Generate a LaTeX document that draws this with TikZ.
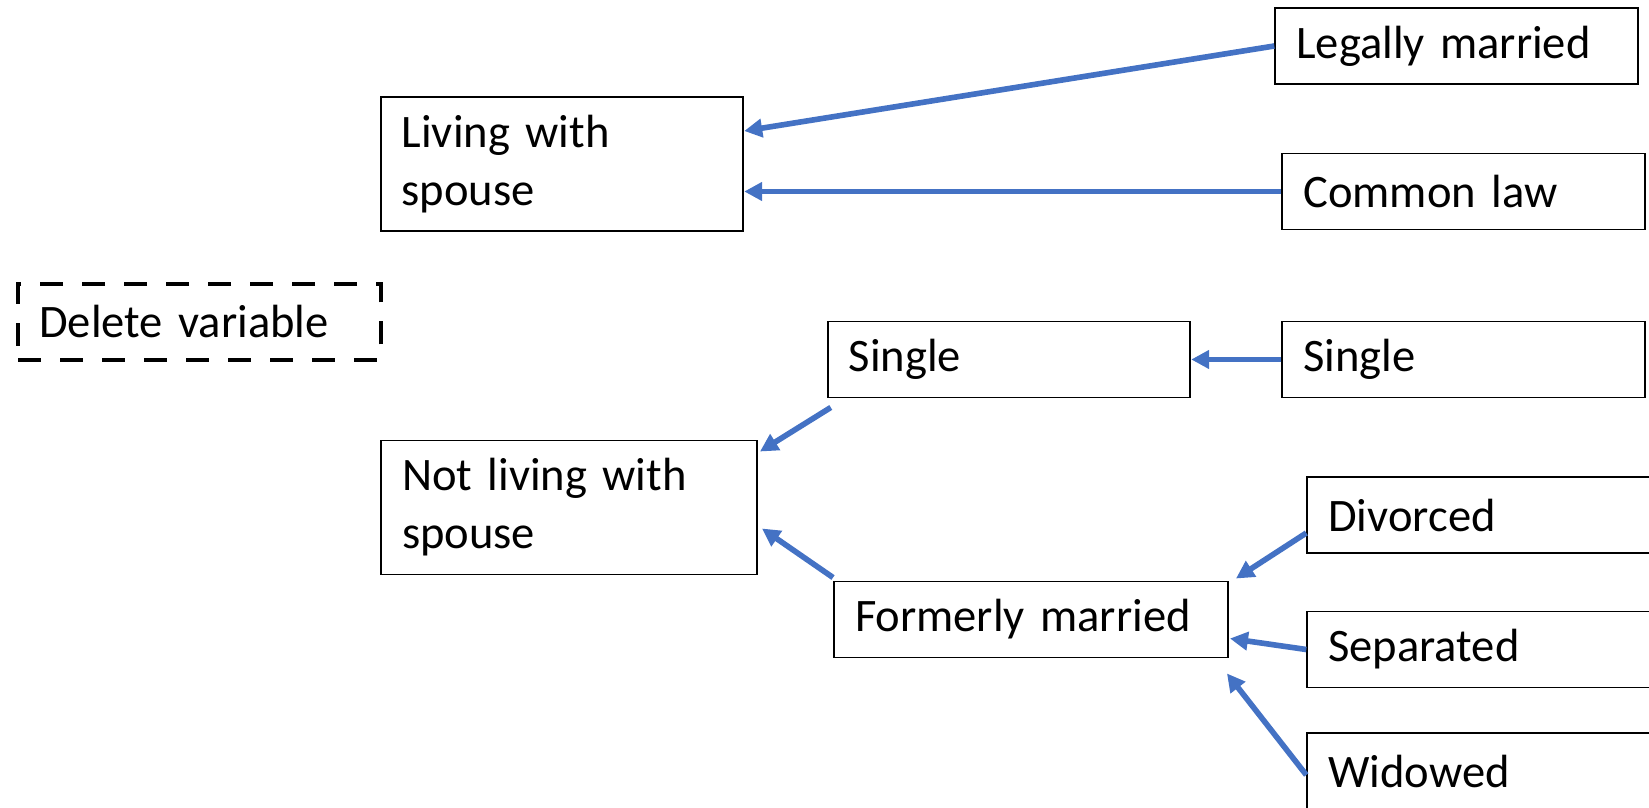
\documentclass[tikz,border=0pt]{standalone}
\usepackage{fontspec}
\setmainfont{Carlito}[WordSpace=0.8]
\usetikzlibrary{shapes,arrows,arrows.meta}
\definecolor{linkblue}{RGB}{68,114,196}
\tikzstyle{block} = [draw, rectangle, line width=1.1pt, minimum height=1.52cm, minimum width=7.25cm, text width=6.41cm, inner xsep=0.42cm, align=left, font=\fontsize{26.5}{33}\selectfont]
\tikzstyle{tall} = [minimum height=2.68cm]
\tikzstyle{dropped} = [block, line width=2.4pt, dash pattern=on 0.46cm off 0.38cm]
\tikzstyle{link} = [draw, ->, linkblue, line width=3.2pt]

\begin{document}
\begin{tikzpicture}[auto, >={Triangle[length=0.36cm,width=0.36cm]}]

    \useasboundingbox (0,0) rectangle (32.98,16.16);
    \clip (0,0) rectangle (32.98,16.16);

    % We start by placing the blocks
    \node [block, tall] (living) at (11.24,12.88) {Living with\\spouse};
    \node [block, tall, minimum width=7.52cm, text width=6.68cm] (notliving) at (11.38,6.01) {Not living with\\spouse};
    \node [dropped] (delete) at (3.99,9.72) {Delete variable};

    \node [block] (single) at (20.18,8.97) {Single};
    \node [block, minimum width=7.88cm, text width=7.04cm] (formerly) at (20.62,3.77) {Formerly married};

    \node [block] (legal) at (29.13,15.24) {Legally married};
    \node [block] (common) at (29.27,12.33) {Common law};
    \node [block, right of=single, node distance=9.09cm] (singlesrc) {Single};
    \node [block] (divorced) at (29.77,5.86) {Divorced};
    \node [block] (separated) at (29.77,3.17) {Separated};
    \node [block] (widowed) at (29.77,0.74) {Widowed};

    % recoding arrows
    \draw [link] (legal.west) -- ([yshift=0.66cm]living.east);
    \draw [link] (common.west) -- ([yshift=-0.55cm]living.east);
    \draw [link] (singlesrc.west) -- (single.east);
    \draw [link] ([shift={(0.08,-0.18)}]single.south west) -- ([shift={(0.04,-0.24)}]notliving.north east);
    \draw [link] ([shift={(0,0.06)}]formerly.north west) -- ([shift={(0.08,-0.42)}]notliving.east);
    \draw [link] ([yshift=-0.36cm]divorced.west) -- ([shift={(0.14,0.04)}]formerly.north east);
    \draw [link] (separated.west) -- ([shift={(0.02,-0.38)}]formerly.east);
    \draw [link] ([yshift=-0.08cm]widowed.west) -- ([shift={(-0.04,-0.3)}]formerly.south east);

\end{tikzpicture}
\end{document}
